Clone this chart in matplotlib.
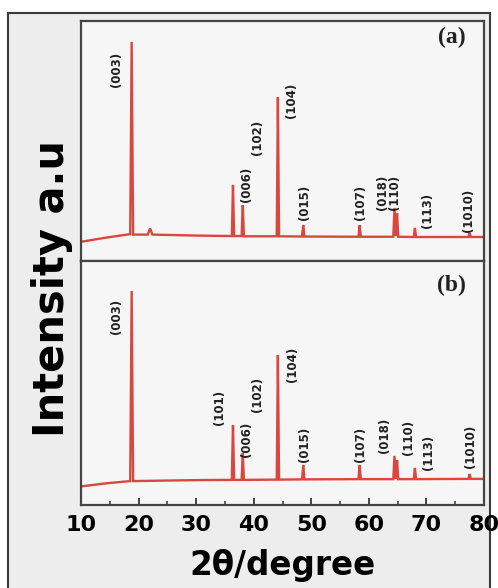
import matplotlib
matplotlib.use("Agg")
import matplotlib.pyplot as plt
from matplotlib.patches import Rectangle
from matplotlib.ticker import MultipleLocator

plt.rcParams['font.family'] = ['DejaVu Sans']
plt.rcParams['font.weight'] = 'bold'

# XRD profile (a): 2-theta vs intensity (a.u.), baseline points plus peak foot/top/foot
two_theta_a = [10, 14, 18.55, 18.8, 19.05, 21.6, 22.0, 22.4, 30, 36.2, 36.4, 36.6,
               37.9, 38.1, 38.3, 44.0, 44.2, 44.4, 48.4, 48.6, 48.8, 58.2, 58.4, 58.6,
               64.25, 64.45, 64.7, 64.9, 65.1, 67.8, 68.0, 68.2, 77.3, 77.5, 77.7, 80]
intensity_a = [8.0, 9.6, 11.2, 91.3, 11.0, 11.0, 13.6, 11.0, 10.6, 10.4, 31.7, 10.4,
               10.4, 23.3, 10.3, 10.3, 68.3, 10.3, 10.2, 15.0, 10.2, 10.1, 15.0, 10.1,
               10.1, 22.1, 10.4, 20.0, 10.1, 10.0, 13.8, 10.0, 10.0, 11.7, 10.0, 10.0]

# XRD profile (b)
two_theta_b = [10, 14, 18.55, 18.8, 19.05, 30, 36.2, 36.4, 36.6,
               37.9, 38.1, 38.3, 44.0, 44.2, 44.4, 48.4, 48.6, 48.8, 58.2, 58.4, 58.6,
               64.25, 64.45, 64.7, 64.9, 65.1, 67.8, 68.0, 68.2, 77.3, 77.5, 77.7, 80]
intensity_b = [7.6, 8.8, 9.8, 87.7, 9.8, 10.2, 10.3, 32.8, 10.3,
               10.3, 21.3, 10.3, 10.4, 61.5, 10.4, 10.5, 16.4, 10.5, 10.6, 16.4, 10.6,
               10.6, 20.1, 10.8, 18.4, 10.6, 10.6, 15.2, 10.6, 10.7, 12.7, 10.7, 10.7]

# Miller index labels: text, 2-theta position, intensity at label start
hkl_a = ['(003)', '(006)', '(102)', '(104)', '(015)', '(107)', '(018)', '(110)', '(113)', '(1010)']
hkl_x_a = [16.25, 38.8, 40.7, 46.6, 48.9, 58.5, 62.3, 64.5, 70.1, 77.3]
hkl_y_a = [72.5, 24.6, 44.2, 59.6, 17.1, 17.1, 21.3, 21.3, 13.8, 12.1]

hkl_b = ['(003)', '(101)', '(006)', '(102)', '(104)', '(015)', '(107)', '(018)', '(110)', '(113)', '(1010)']
hkl_x_b = [16.25, 34.1, 38.8, 40.7, 46.8, 48.9, 58.5, 62.8, 66.8, 70.3, 77.6]
hkl_y_b = [70.1, 32.8, 19.7, 38.1, 50.4, 17.6, 17.6, 21.3, 20.5, 14.3, 15.2]

W, H = 498, 588
fig = plt.figure(figsize=(W / 100, H / 100), dpi=100)
fig.patch.set_facecolor('white')

# gray panel with a dark border behind the plot
fig.add_artist(Rectangle((8 / W, -0.01), (490 - 8) / W, (588 - 13) / H + 0.01,
                         transform=fig.transFigure, facecolor='#ededed',
                         edgecolor='#3a3a3a', linewidth=1.5, zorder=0))

left, right = 81 / W, 484 / W
ax_a = fig.add_axes([left, (H - 261) / H, right - left, 240 / H])
ax_b = fig.add_axes([left, (H - 505) / H, right - left, 244 / H], sharex=ax_a)

line_color = '#d9473f'
panels = [(ax_a, two_theta_a, intensity_a, hkl_a, hkl_x_a, hkl_y_a, '(a)'),
          (ax_b, two_theta_b, intensity_b, hkl_b, hkl_x_b, hkl_y_b, '(b)')]

for ax, x, y, names, lx, ly, tag in panels:
    ax.set_facecolor('#f6f6f6')
    ax.plot(x, y, color=line_color, linewidth=1.7, solid_joinstyle='miter')
    for name, px, py in zip(names, lx, ly):
        ax.text(px, py, name, rotation=90, ha='center', va='bottom',
                fontsize=8.5, fontweight='bold', color='#222222')
    ax.text(0.92, 0.93 if tag == '(a)' else 0.9, tag, transform=ax.transAxes,
            ha='center', va='center', fontsize=17, fontweight='bold',
            family='Liberation Serif', color='#222222')
    ax.set_ylim(0, 100)
    ax.set_yticks([])
    for side in ax.spines.values():
        side.set_color('#444444')
        side.set_linewidth(1.6)

ax_a.set_xlim(10, 80)
ax_a.tick_params(axis='x', which='both', bottom=False, labelbottom=False)
ax_b.xaxis.set_major_locator(MultipleLocator(10))
ax_b.xaxis.set_minor_locator(MultipleLocator(5))
ax_b.tick_params(axis='x', which='major', direction='in', length=5, width=1.4,
                 color='#444444', labelsize=16, pad=7)
ax_b.tick_params(axis='x', which='minor', direction='in', length=3, width=1.2,
                 color='#444444')
for lbl in ax_b.get_xticklabels():
    lbl.set_fontweight('bold')
ax_b.set_xlabel('2θ/degree', fontsize=23.5, fontweight='bold', labelpad=10)

fig.text(52 / W, 1 - 289 / H, 'Intensity a.u', rotation=90, ha='center', va='center',
         fontsize=30, fontweight='bold')

fig.savefig('out.png', dpi=100, facecolor=fig.get_facecolor())
